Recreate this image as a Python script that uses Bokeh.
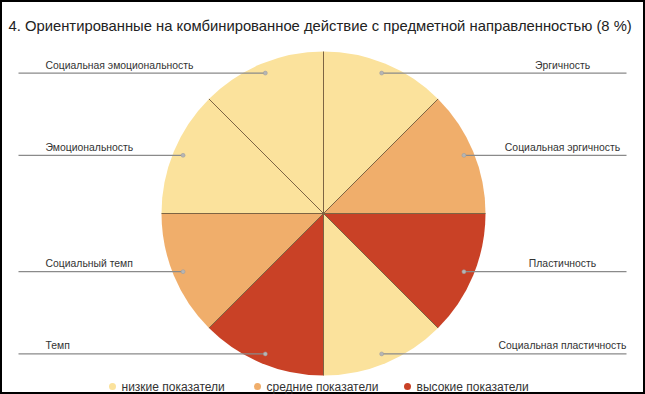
import numpy as np
from bokeh.plotting import figure
from bokeh.models import Range1d, ColumnDataSource
from bokeh.core.properties import value
from bokeh.embed import file_html
from bokeh.resources import INLINE

# ---------------- data ----------------
title_text = "4. Ориентированные на комбинированное действие с предметной направленностью (8 %)"
categories = ["Эргичность", "Социальная эргичность", "Пластичность", "Социальная пластичность",
              "Темп", "Социальный темп", "Эмоциональность", "Социальная эмоциональность"]
shares = [1, 1, 1, 1, 1, 1, 1, 1]
levels = ["низкие", "средние", "высокие", "низкие", "высокие", "средние", "низкие", "низкие"]
level_names = ["низкие", "средние", "высокие"]
legend_labels = ["низкие показатели", "средние показатели", "высокие показатели"]
level_colors = {"низкие": "#FBE29C", "средние": "#F0AE6B", "высокие": "#C94126"}

# ---------------- layout (pixel coordinates) ----------------
W, H = 645, 394
CX, CY, R = 323, 213, 162
DOT_R = 152
FONT = "Liberation Sans"

p = figure(width=W, height=H, output_backend="svg", toolbar_location=None,
           x_range=Range1d(0, W), y_range=Range1d(H, 0),
           min_border=0, outline_line_color="black", outline_line_width=3)
p.axis.visible = False
p.grid.visible = False
p.background_fill_color = "white"

total = float(sum(shares))
cum = np.concatenate([[0.0], np.cumsum(shares)])
starts = np.pi / 2 - 2 * np.pi * cum[:-1] / total
ends = np.pi / 2 - 2 * np.pi * cum[1:] / total
mids = (starts + ends) / 2
colors = [level_colors[l] for l in levels]

src = ColumnDataSource(dict(x=[CX] * len(categories), y=[CY] * len(categories),
                            start=starts, end=ends, color=colors, name=categories))
p.wedge(x="x", y="y", radius=R, start_angle="start", end_angle="end", direction="clock",
        fill_color="color", line_color=None, source=src)

# slice separators
bx = CX + R * np.cos(starts)
by = CY - R * np.sin(starts)
p.segment(x0=[CX] * len(bx), y0=[CY] * len(by), x1=bx, y1=by, line_color="#7d6443", line_width=1)

# leader lines, dots and labels
dx = CX + DOT_R * np.cos(mids)
dy = CY - DOT_R * np.sin(mids)
right = np.cos(mids) > 0
for i, name in enumerate(categories):
    if right[i]:
        p.line([dx[i], 626], [dy[i], dy[i]], line_color="#8a8a8a", line_width=1.2)
        p.text(x=[562], y=[dy[i] - 8], text=[name], text_align="center", text_baseline="middle",
               text_font=value(FONT), text_font_size="10.4px", text_color="#333333")
    else:
        p.line([18, dx[i]], [dy[i], dy[i]], line_color="#8a8a8a", line_width=1.2)
        p.text(x=[45], y=[dy[i] - 8], text=[name], text_align="left", text_baseline="middle",
               text_font=value(FONT), text_font_size="10.4px", text_color="#333333")
p.scatter(x=dx, y=dy, size=4, fill_color="#b5b5b5", line_color="#9a9a9a", line_width=0.5)

# title
p.text(x=[8], y=[25], text=[title_text], text_align="left", text_baseline="middle",
       text_font=value(FONT), text_font_size="14.8px", text_color="#222222")

# legend
leg_x = [112, 257, 407]
leg_y = 386
p.scatter(x=leg_x, y=[leg_y] * 3, size=7, fill_color=[level_colors[l] for l in level_names],
          line_color=None)
p.text(x=[x + 9 for x in leg_x], y=[leg_y] * 3, text=legend_labels, text_align="left",
       text_baseline="middle", text_font=value(FONT), text_font_size="12px", text_color="#333333")

open("out.html", "w").write(file_html(p, INLINE))
